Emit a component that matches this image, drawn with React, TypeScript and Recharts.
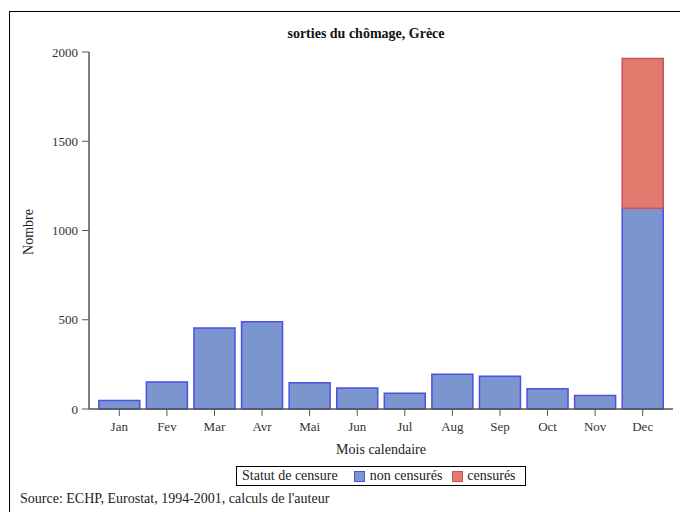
import React from 'react';
import { BarChart, Bar, XAxis, YAxis } from 'recharts';

const months = ['Jan', 'Fev', 'Mar', 'Avr', 'Mai', 'Jun', 'Jul', 'Aug', 'Sep', 'Oct', 'Nov', 'Dec'];
const nonCensures = [47, 151, 454, 489, 147, 118, 88, 194, 183, 114, 75, 1124];
const censures = [0, 0, 0, 0, 0, 0, 0, 0, 0, 0, 0, 839];
const yTicks = [0, 500, 1000, 1500, 2000];

const data = months.map((m, i) => ({ mois: m, non: nonCensures[i], cens: censures[i] }));

const FONT = '"Liberation Serif", "DejaVu Serif", serif';
const BLUE = '#7b96cf';
const BLUE_EDGE = '#4f4fe6';
const RED = '#e07b6e';
const RED_EDGE = '#c9505c';

function CensureLegend() {
  return (
    <div style={{
      position: 'absolute', left: 236, top: 466,
      display: 'flex', alignItems: 'center', height: 20, border: '1px solid #000',
      width: 290, boxSizing: 'border-box', padding: '0 5px', fontFamily: FONT, fontSize: 14, color: '#222',
      background: '#fff'
    }}>
      <span style={{ marginRight: 16 }}>Statut de censure</span>
      <span style={{ width: 11, height: 11, background: BLUE, border: `1px solid ${BLUE_EDGE}`, boxSizing: 'border-box', marginRight: 5 }} />
      <span style={{ marginRight: 10 }}>non censurés</span>
      <span style={{ width: 11, height: 11, background: RED, border: `1px solid ${RED_EDGE}`, boxSizing: 'border-box', marginRight: 4 }} />
      <span>censurés</span>
    </div>
  );
}

export default function App() {
  const tickStyle = { fontFamily: FONT, fontSize: 13, fill: '#333' };
  return (
    <div style={{ position: 'absolute', left: 0, top: 0, width: 680, height: 512, background: '#fff', overflow: 'hidden' }}>
      <div style={{ position: 'absolute', left: 9, top: 11, width: 680, height: 520, borderLeft: '1.5px solid #000', borderTop: '1.5px solid #000' }} />
      <div style={{ position: 'absolute', left: 0, width: 732, top: 26, textAlign: 'center', fontFamily: FONT, fontSize: 14, fontWeight: 'bold', color: '#111' }}>
        sorties du chômage, Grèce
      </div>
      <div style={{ position: 'absolute', left: 29, top: 232, transform: 'translate(-50%, -50%) rotate(-90deg)', fontFamily: FONT, fontSize: 14, color: '#222', whiteSpace: 'nowrap' }}>
        Nombre
      </div>
      <div style={{ position: 'absolute', left: 89, width: 584, top: 442, textAlign: 'center', fontFamily: FONT, fontSize: 14, color: '#222' }}>
        Mois calendaire
      </div>
      <div style={{ position: 'absolute', left: 20, top: 491, fontFamily: FONT, fontSize: 14, color: '#222' }}>
        Source: ECHP, Eurostat, 1994-2001, calculs de l'auteur
      </div>
      <div style={{ position: 'absolute', left: 0, top: 0 }}>
        <BarChart width={680} height={512} data={data} margin={{ top: 52, right: 7, left: 29, bottom: 73 }} barCategoryGap={3.3}>
          <XAxis dataKey="mois" xAxisId="bottom" height={30} padding={{ left: 6.5, right: 6.5 }}
            tick={tickStyle} tickSize={7} tickMargin={6}
            tickLine={{ stroke: '#555' }} axisLine={{ stroke: '#555', strokeWidth: 1.5 }} />
          <XAxis dataKey="mois" xAxisId="top" orientation="top" height={0} tick={false} tickLine={false}
            axisLine={{ stroke: '#999', strokeWidth: 1.5 }} />
          <YAxis yAxisId="left" width={60} domain={[0, 2000]} ticks={yTicks} interval={0}
            tick={tickStyle} tickSize={7} tickMargin={4}
            tickLine={{ stroke: '#555' }} axisLine={{ stroke: '#555', strokeWidth: 1.5 }} />
          <YAxis yAxisId="right" orientation="right" width={0} domain={[0, 2000]} tick={false} tickLine={false}
            axisLine={{ stroke: '#999', strokeWidth: 1.5 }} />
          <Bar dataKey="non" name="non censurés" stackId="s" xAxisId="bottom" yAxisId="left"
            fill={BLUE} stroke={BLUE_EDGE} strokeWidth={1.5} isAnimationActive={false} />
          <Bar dataKey="cens" name="censurés" stackId="s" xAxisId="bottom" yAxisId="left"
            fill={RED} stroke={RED_EDGE} strokeWidth={1.5} isAnimationActive={false} />
        </BarChart>
      </div>
      <CensureLegend />
    </div>
  );
}
